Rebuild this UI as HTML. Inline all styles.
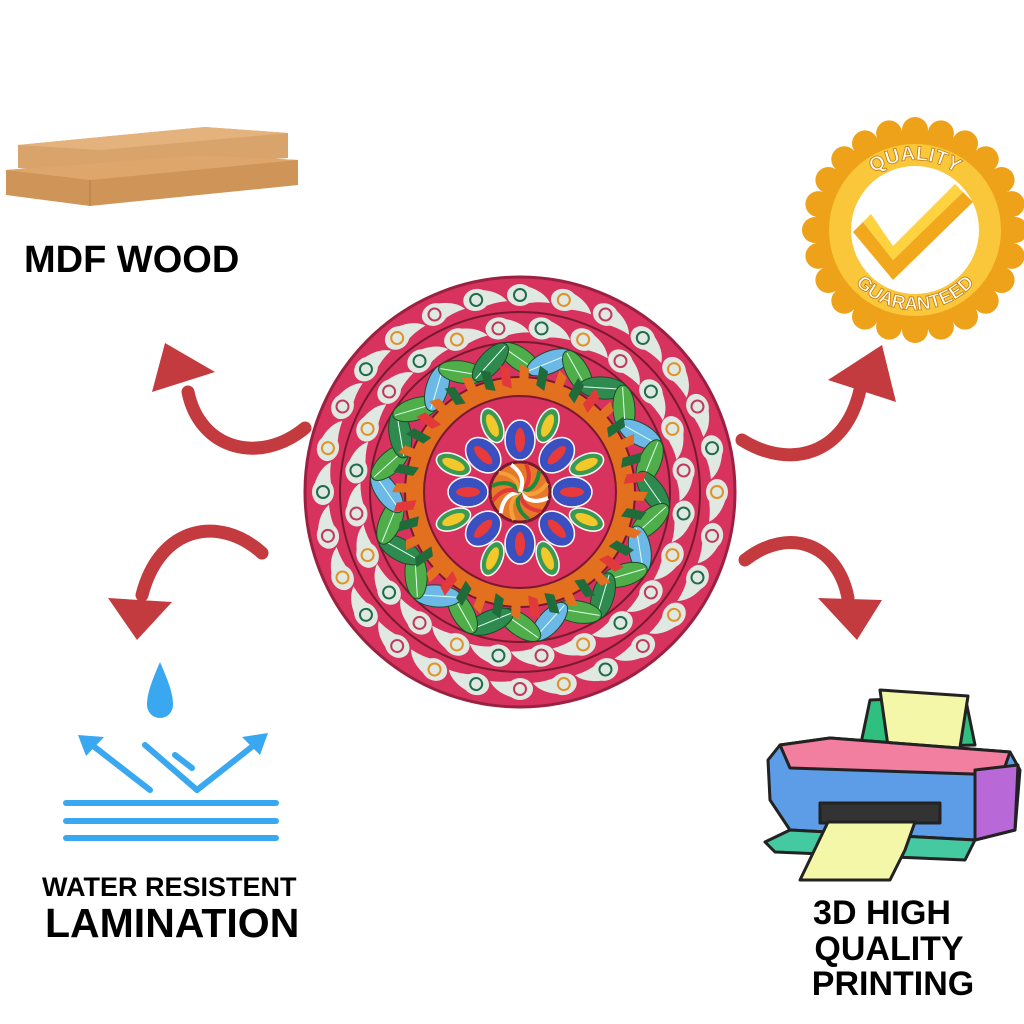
<!DOCTYPE html>
<html><head><meta charset="utf-8"><style>
html,body{margin:0;padding:0;background:#fff;width:1024px;height:1024px;overflow:hidden}
svg{display:block}
text{font-family:"Liberation Sans",Arial,sans-serif;font-weight:bold;fill:#000}
</style></head><body>
<svg id="s" width="1024" height="1024" viewBox="0 0 1024 1024" xmlns="http://www.w3.org/2000/svg">
<!-- wood planks -->
<polygon points="18,145 205,127 288,133 288,158 100,172 18,168" fill="#d9a46c"/>
<polygon points="18,145 205,127 288,133 100,150" fill="#e3b27d"/>
<polygon points="6,170 200,155 298,160 298,185 90,206 6,195" fill="#cf9457"/>
<polygon points="6,170 200,155 298,160 90,180" fill="#dfa66b"/>
<line x1="90" y1="180" x2="90" y2="206" stroke="#b77c43"/>
<text x="24" y="272" font-size="38">MDF WOOD</text>

<!-- badge -->
<g transform="translate(915,230)">
 <g id="scal"></g>
 <circle r="92" fill="#eea21a"/>
 <circle r="86" fill="#fbc73a"/>
 <circle r="64" fill="#fff"/>
 <path d="M-52,-8 L-22,30 L48,-38 L58,-28 L-22,50 L-62,2Z" fill="#f2a81c"/>
 <path d="M-52,-8 L-22,30 L48,-38 L40,-46 L-22,16 L-44,-16Z" fill="#ffd23f"/>
 <defs><path id="ta" d="M-70,0 A70,70 0 0 1 70,0"/><path id="tb" d="M-80,0 A80,80 0 0 0 80,0"/></defs>
 <text font-size="20" style="fill:#fff;stroke:#c07a10;stroke-width:0.8"><textPath href="#ta" startOffset="50%" text-anchor="middle">QUALITY</textPath></text>
 <text font-size="19" style="fill:#fff;stroke:#c07a10;stroke-width:0.8"><textPath href="#tb" startOffset="50%" text-anchor="middle">GUARANTEED</textPath></text>
</g>

<!-- arrows -->
<g fill="none" stroke="#c33a3f" stroke-width="13" stroke-linecap="round">
 <path d="M305,428 C260,465 200,450 188,392"/>
 <path d="M262,553 C220,515 160,525 142,595"/>
 <path d="M742,440 C790,470 845,455 860,390"/>
 <path d="M745,560 C790,525 838,545 848,598"/>
</g>
<g fill="#c33a3f">
 <polygon points="165,343 152,392 215,372"/>
 <polygon points="137,640 108,598 172,602"/>
 <polygon points="882,345 828,380 896,402"/>
 <polygon points="857,640 818,598 882,600"/>
</g>

<!-- mandala -->
<g transform="translate(520,492)" id="m">
 <circle r="215" fill="#d8325e" stroke="#9c2040" stroke-width="3"/>
 <g id="sw1"></g>
 <circle r="180" fill="none" stroke="#7a1830" stroke-width="2"/>
 <g id="sw2"></g>
 <circle r="150" fill="none" stroke="#7a1830" stroke-width="2"/>
 <g id="lv"></g>
 <circle r="115" fill="#e2701f" stroke="#7a1830" stroke-width="2"/>
 <g id="st"></g>
 <circle r="96" fill="#d8325e" stroke="#7a1830" stroke-width="2"/>
 <g id="pt"></g>
 <circle r="30" fill="#e7782a" stroke="#7a1830" stroke-width="3"/>
 <g id="cs"></g>
</g>

<!-- water icon -->
<g fill="#3aa8f0" stroke="#3aa8f0">
 <path d="M160,662 C150,685 147,695 147,705 A13,13 0 0 0 173,705 C173,695 170,685 160,662Z" stroke="none"/>
 <g fill="none" stroke-width="6" stroke-linecap="round">
  <line x1="145" y1="745" x2="197" y2="790"/>
  <line x1="197" y1="790" x2="258" y2="742"/>
  <line x1="150" y1="790" x2="92" y2="745"/>
  <line x1="175" y1="755" x2="192" y2="768"/>
  <line x1="66" y1="803" x2="276" y2="803"/>
  <line x1="66" y1="821" x2="276" y2="821"/>
  <line x1="66" y1="838" x2="276" y2="838"/>
 </g>
 <polygon points="78,735 104,737 86,756" stroke="none"/>
 <polygon points="268,733 242,737 260,755" stroke="none"/>
</g>
<text x="42" y="896" font-size="27">WATER RESISTENT</text>
<text x="45" y="937" font-size="41">LAMINATION</text>

<!-- printer -->
<g stroke="#222" stroke-width="3" stroke-linejoin="round">
 <polygon points="870,700 965,696 975,745 860,748" fill="#2fbf7f"/>
 <polygon points="880,690 968,696 958,760 890,760" fill="#f4f6a8"/>
 <path d="M780,745 L830,738 L1010,752 L1020,770 L1015,830 L975,840 L790,830 L770,800 L768,760Z" fill="#5d9de8"/>
 <path d="M780,745 L830,738 L1010,752 L1002,775 L790,768Z" fill="#f27ea0"/>
 <path d="M975,770 L1018,765 L1015,830 L975,840Z" fill="#b968d8"/>
 <path d="M790,830 L975,840 L965,860 L775,852 L765,842Z" fill="#44c9a0"/>
 <rect x="820" y="803" width="120" height="20" fill="#333"/>
 <polygon points="828,822 915,822 905,850 890,880 800,880" fill="#f4f6a8"/>
</g>
<text x="882" y="924" font-size="34" text-anchor="middle">3D HIGH</text>
<text x="889" y="960" font-size="34" text-anchor="middle">QUALITY</text>
<text x="893" y="995" font-size="34" text-anchor="middle">PRINTING</text>
</svg>
<script>
var NS="http://www.w3.org/2000/svg";
function el(p,t,a){var e=document.createElementNS(NS,t);for(var k in a)e.setAttribute(k,a[k]);p.appendChild(e);return e;}
var sc=document.getElementById('scal');
for(var i=0;i<24;i++){var a=i*Math.PI*2/24;el(sc,'circle',{cx:100*Math.cos(a),cy:100*Math.sin(a),r:13,fill:'#eea21a'});}
el(sc,'circle',{r:100,fill:'#eea21a'});
function swirls(id,r,n,off){var g=document.getElementById(id);
 var cols=['#1f6b4a','#e0912a','#c0395a'];
 for(var i=0;i<n;i++){var a=(i+off)*360/n;var gg=el(g,'g',{transform:'rotate('+a+') translate(0,'+(-r)+')'});
  el(gg,'path',{d:'M6,-9 Q24,-4 30,8 Q16,6 4,9Z',fill:'#dfe9e2'});
  el(gg,'ellipse',{cx:0,cy:0,rx:13,ry:11,fill:'#dfe9e2'});
  el(gg,'circle',{cx:0,cy:0,r:6,fill:'none',stroke:cols[i%3],'stroke-width':2});}}
swirls('sw1',197,28,0);swirls('sw2',165,24,0.5);
var lv=document.getElementById('lv');
for(var i=0;i<28;i++){var a=i*360/28;var c=(i%4==1)?'#6cb8e6':(i%2?'#2e8a4e':'#4fae4a');
 var gg=el(lv,'g',{transform:'rotate('+a+') translate(0,-133) rotate('+(i%2?55:-55)+')'});
 el(gg,'ellipse',{rx:11,ry:24,fill:c,stroke:'#1d4a2a','stroke-width':1});
 el(gg,'line',{x1:0,y1:-22,x2:0,y2:22,stroke:'#dfe','stroke-width':1});}
var st=document.getElementById('st');var sc2=['#e2701f','#1f6b3a','#e23a3a','#e2701f','#1f6b3a'];
for(var i=0;i<40;i++){var a=i*360/40;el(st,'rect',{x:-5,y:-114,width:10,height:18,fill:sc2[i%5],transform:'rotate('+a+') skewX(25)'});}
var pt=document.getElementById('pt');
for(var i=0;i<16;i++){var a=i*360/16;var r=(i%2)?72:52;
 var gg=el(pt,'g',{transform:'rotate('+a+') translate(0,'+(-r)+')'});
 el(gg,'ellipse',{rx:(i%2)?10:15,ry:(i%2)?18:20,fill:(i%2)?'#3a9a52':'#3a4fc0',stroke:'#fff','stroke-width':1.5});
 el(gg,'ellipse',{rx:5,ry:12,fill:(i%2)?'#f2c82a':'#e83a3a'});}
var cs=document.getElementById('cs');var cc=['#e23a3a','#1f8a3a','#f2a03a','#fff'];
for(var i=0;i<12;i++){el(cs,'path',{d:'M0,0 Q14,-10 6,-28',fill:'none',stroke:cc[i%4],'stroke-width':4,transform:'rotate('+(i*30)+')'});}
</script>
</body></html>
